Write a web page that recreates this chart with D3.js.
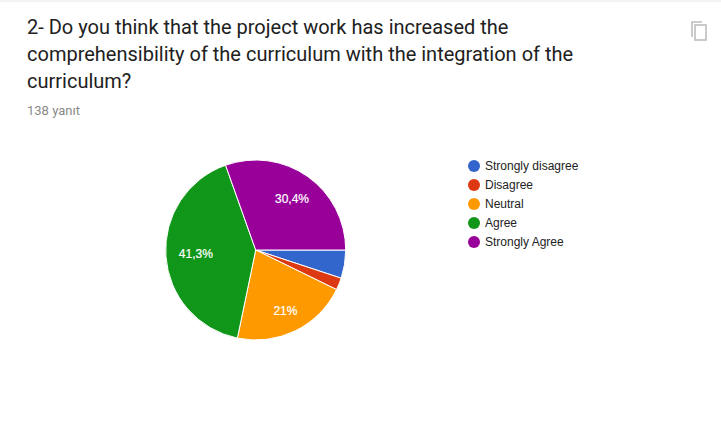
<!DOCTYPE html>
<html>
<head>
<meta charset="utf-8">
<title>Pie chart</title>
<script src="https://cdn.jsdelivr.net/npm/d3@7"></script>
<style>
  html, body { margin: 0; padding: 0; background: #fff; overflow: hidden; }
  svg { display: block; }
</style>
</head>
<body>
<script>
// chart data
var categories = ["Strongly disagree", "Disagree", "Neutral", "Agree", "Strongly Agree"];
var responses = [7, 3, 29, 57, 42];
var sliceLabels = ["", "", "21%", "41,3%", "30,4%"];
var colors = ["#3366cc", "#dc3912", "#ff9900", "#109618", "#990099"];
var titleLines = [
  "2- Do you think that the project work has increased the",
  "comprehensibility of the curriculum with the integration of the",
  "curriculum?"
];
var subtitle = "138 yanıt";

var w = 721, h = 431;
var cx = 255.7, cy = 250, radius = 90;

var svg = d3.select("body").append("svg")
    .attr("width", w)
    .attr("height", h);

// faint card edge along the top
svg.append("rect")
    .attr("width", w)
    .attr("height", 2)
    .attr("fill", "#f3f3f3");

// title
svg.selectAll(".title")
    .data(titleLines)
    .enter()
    .append("text")
    .attr("class", "title")
    .attr("x", 27)
    .attr("y", function(d, i) { return 34 + i * 27; })
    .style("font-family", "Roboto")
    .style("font-size", "20px")
    .style("fill", "#212121")
    .text(function(d) { return d; });

svg.append("text")
    .attr("x", 27)
    .attr("y", 115)
    .style("font-family", "Roboto")
    .style("font-size", "13px")
    .style("fill", "#8a8a8a")
    .text(subtitle);

// copy icon, top right
var icon = svg.append("g")
    .attr("transform", "translate(691,21)")
    .attr("fill", "none")
    .attr("stroke", "#bdbdbd")
    .attr("stroke-width", 1.6);
icon.append("path").attr("d", "M1,16V1H11");
icon.append("rect")
    .attr("x", 4)
    .attr("y", 4)
    .attr("width", 11)
    .attr("height", 15);

// pie, clockwise from 3 o'clock
var pie = d3.pie()
    .sort(null)
    .startAngle(Math.PI / 2)
    .endAngle(Math.PI / 2 + 2 * Math.PI);

var arc = d3.arc()
    .innerRadius(0)
    .outerRadius(radius);

var labelArc = d3.arc()
    .innerRadius(radius * 0.7)
    .outerRadius(radius * 0.7);

// small per-slice corrections to the label position
var labelNudge = [[0, 0], [0, 0], [2, 4], [3, -1], [0, 0]];

var slices = svg.append("g")
    .attr("transform", "translate(" + cx + "," + cy + ")")
    .selectAll("g")
    .data(pie(responses))
    .enter()
    .append("g");

slices.append("path")
    .attr("d", arc)
    .attr("fill", function(d, i) { return colors[i]; })
    .attr("stroke", "#fff")
    .attr("stroke-width", 1);

slices.append("text")
    .attr("transform", function(d, i) {
      var c = labelArc.centroid(d);
      return "translate(" + (c[0] + labelNudge[i][0]) + "," + (c[1] + labelNudge[i][1]) + ")";
    })
    .attr("dy", "0.35em")
    .attr("text-anchor", "middle")
    .style("font-family", "'Liberation Sans', Arial")
    .style("font-size", "12px")
    .style("fill", "#fff")
    .style("stroke", "#fff")
    .style("stroke-width", 0.2)
    .text(function(d, i) { return sliceLabels[i]; });

// legend
var legendY = d3.scalePoint()
    .domain(categories)
    .range([166, 242]);

var legend = svg.selectAll(".legend")
    .data(categories)
    .enter()
    .append("g")
    .attr("class", "legend")
    .attr("transform", function(d) { return "translate(0," + legendY(d) + ")"; });

legend.append("circle")
    .attr("cx", 474)
    .attr("r", 6)
    .attr("fill", function(d, i) { return colors[i]; });

legend.append("text")
    .attr("x", 485)
    .attr("dy", "0.35em")
    .style("font-family", "'Liberation Sans', Arial")
    .style("font-size", "12px")
    .style("fill", "#222")
    .text(function(d) { return d; });
</script>
</body>
</html>
